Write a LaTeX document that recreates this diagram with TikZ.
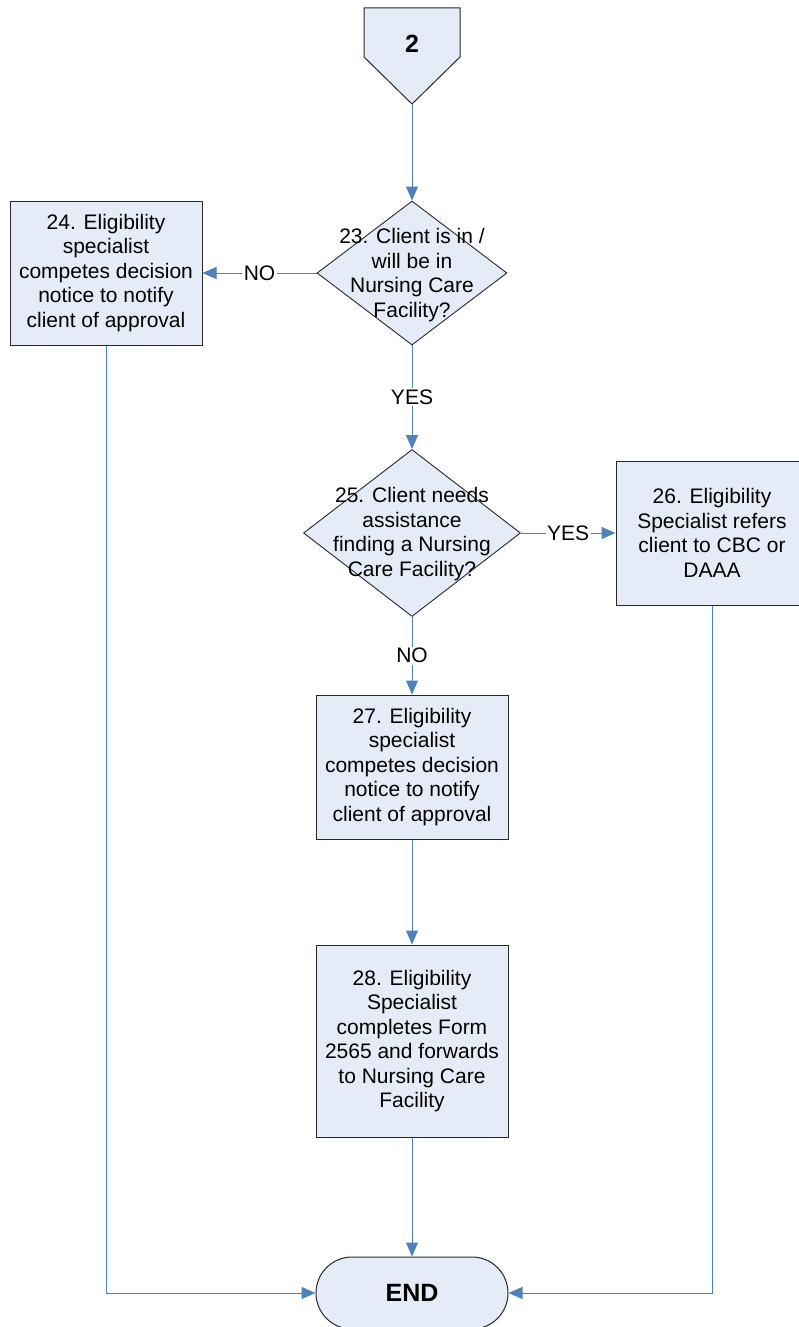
\documentclass[tikz,border=0pt]{standalone}
\usepackage{fontspec}
\setmainfont{Liberation Sans}
\usetikzlibrary{shapes.geometric,arrows.meta}
\definecolor{boxfill}{RGB}{230,236,247}
\definecolor{connc}{RGB}{79,129,189}
\definecolor{border}{RGB}{40,40,40}
\begin{document}
\begin{tikzpicture}[x=1pt,y=-1pt,
  proc/.style={draw=border,fill=boxfill,line width=1pt,minimum width=192pt,minimum height=144pt,inner sep=0pt,align=center,font=\fontsize{21}{24.5}\selectfont},
  dec/.style={diamond,draw=border,fill=boxfill,line width=0.9pt,inner sep=0pt},
  txt/.style={align=center,font=\fontsize{21}{24.5}\selectfont,inner sep=0pt},
  conn/.style={draw=connc,line width=1pt,-{Triangle[length=14pt,width=12pt]}},
  lbl/.style={fill=white,inner sep=1.5pt,font=\fontsize{21}{24}\selectfont},
]
\useasboundingbox (0,0) rectangle (798,1327);
\fill[white] (0,0) rectangle (798,1327);
% off-page connector
\draw[draw=border,fill=boxfill,line width=1pt] (364,8) -- (460,8) -- (460,57) -- (412,104) -- (364,57) -- cycle;
\coordinate (p2) at (412,104);
\node[font=\bfseries\fontsize{25}{28}\selectfont] (t2) at (412,44) {2};
% decision 23
\node[dec,minimum width=190pt,minimum height=144pt] (d23) at (412,273) {};
\node[txt] (t23) at (412,275) {23. Client is in /\\will be in\\Nursing Care\\Facility?};
% box 24
\node[proc] (b24) at (106,273) {24. Eligibility\\specialist\\competes decision\\notice to notify\\client of approval};
% decision 25
\node[dec,minimum width=217pt,minimum height=167pt] (d25) at (412,533) {};
\node[txt] (t25) at (412,534) {25. Client needs\\assistance\\finding a Nursing\\Care Facility?};
% box 26
\node[proc] (b26) at (712,533) {26. Eligibility\\Specialist refers\\client to CBC or\\DAAA};
% box 27
\node[proc] (b27) at (412,767) {27. Eligibility\\specialist\\competes decision\\notice to notify\\client of approval};
% box 28
\node[proc,minimum height=192pt] (b28) at (412,1041) {28. Eligibility\\Specialist\\completes Form\\2565 and forwards\\to Nursing Care\\Facility};
% end
\node[draw=border,fill=boxfill,line width=1pt,minimum width=192pt,minimum height=72pt,rounded corners=36pt,font=\bfseries\fontsize{25}{28}\selectfont] (end) at (412,1293) {END};
% connectors
\draw[conn] (p2) -- (d23.north);
\draw[conn] (d23.west) -- node[lbl] {NO} (b24.east);
\draw[conn] (d23.south) -- node[lbl] {YES} (d25.north);
\draw[conn] (d25.east) -- node[lbl] {YES} (b26.west);
\draw[conn] (d25.south) -- node[lbl] {NO} (b27.north);
\draw[conn] (b27.south) -- (b28.north);
\draw[conn] (b28.south) -- (end.north);
\draw[conn] (b24.south) |- (end.west);
\draw[conn] (b26.south) |- (end.east);
\end{tikzpicture}
\end{document}
